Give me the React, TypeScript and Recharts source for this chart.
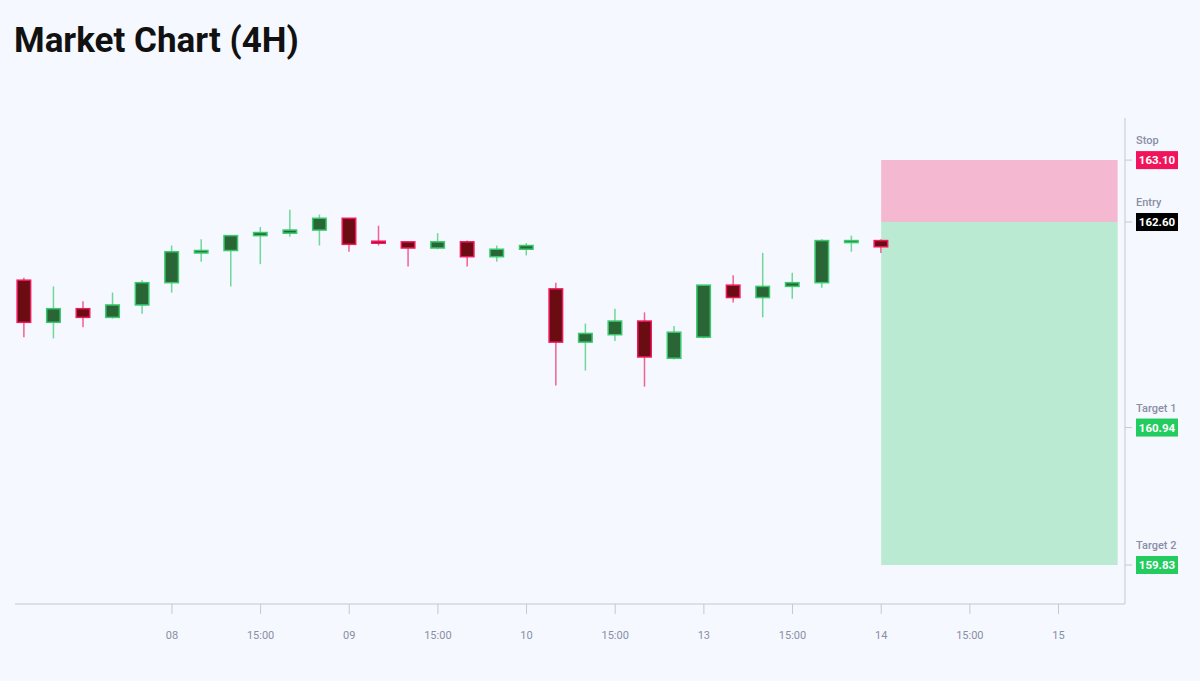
import { type ReactElement } from "react";
import { ComposedChart, Bar, XAxis, YAxis, ReferenceArea } from "recharts";

// 4H candles
const opens = [
  162.13, 161.79, 161.9, 161.83, 161.93, 162.11, 162.35, 162.37, 162.49, 162.51,
  162.535, 162.63, 162.445, 162.44, 162.39, 162.44, 162.32, 162.38, 162.06, 161.63,
  161.69, 161.8, 161.5, 161.67, 162.09, 161.99, 162.08, 162.11, 162.44, 162.45,
];
const highs = [
  162.15, 162.08, 161.96, 162.03, 162.13, 162.41, 162.46, 162.49, 162.56, 162.7,
  162.66, 162.63, 162.57, 162.44, 162.51, 162.45, 162.41, 162.43, 162.11, 161.78,
  161.9, 161.87, 161.76, 162.09, 162.17, 162.35, 162.19, 162.46, 162.49, 162.46,
];
const lows = [
  161.67, 161.66, 161.75, 161.82, 161.86, 162.03, 162.28, 162.08, 162.26, 162.48,
  162.41, 162.36, 162.41, 162.24, 162.38, 162.24, 162.28, 162.33, 161.28, 161.4,
  161.64, 161.27, 161.49, 161.66, 161.95, 161.83, 161.98, 162.07, 162.36, 162.35,
];
const closes = [
  161.79, 161.9, 161.83, 161.93, 162.11, 162.36, 162.37, 162.49, 162.515, 162.535,
  162.63, 162.42, 162.43, 162.39, 162.44, 162.32, 162.38, 162.41, 161.63, 161.7,
  161.8, 161.51, 161.71, 162.09, 161.99, 162.08, 162.11, 162.45, 162.45, 162.4,
];

const tickIndex = [5, 8, 11, 14, 17, 20, 23, 26, 29, 32, 35];
const tickLabels = ["08", "15:00", "09", "15:00", "10", "15:00", "13", "15:00", "14", "15:00", "15"];

const levelNames = ["Stop", "Entry", "Target 1", "Target 2"];
const levelValues = [163.1, 162.6, 160.94, 159.83];
const levelColors = ["#f2145b", "#000000", "#22cc5f", "#22cc5f"];

const zoneStart = 29;
const zoneEnd = 37;

const data = opens.map((o, i) => ({
  i,
  open: o,
  close: closes[i],
  range: [lows[i], highs[i]],
}));

const UP = { fill: "#2a6535", stroke: "#37c96c", wick: "#6fd898" };
const DOWN = { fill: "#6b0b12", stroke: "#f0185c", wick: "#f26191" };
const AXIS = "#c6c8d4";
const TEXT = "#8a8ea6";

function Candle(props: any): ReactElement | null {
  const { x, y, width, height, payload } = props;
  if (!payload) return null;
  const [low, high] = payload.range;
  const top = Math.min(y, y + height);
  const h = Math.abs(height);
  const px = (v: number) => (high === low ? top : top + ((high - v) / (high - low)) * h);
  const up = payload.close >= payload.open;
  const c = up ? UP : DOWN;
  const bTop = px(Math.max(payload.open, payload.close));
  const bBot = px(Math.min(payload.open, payload.close));
  const bh = Math.max(bBot - bTop, 2);
  const cx = x + width / 2;
  return (
    <g>
      <line x1={cx} x2={cx} y1={top} y2={top + h} stroke={c.wick} strokeWidth={1.5} />
      <rect
        x={x + 0.75}
        y={bTop}
        width={width - 1.5}
        height={bh}
        fill={c.fill}
        stroke={c.stroke}
        strokeWidth={1.5}
      />
    </g>
  );
}

function LevelTick(props: any): ReactElement {
  const { x, y, payload } = props;
  const k = levelValues.indexOf(payload.value);
  return (
    <g>
      <text x={x} y={y - 16} fill={TEXT} fontSize={11} fontWeight={500} fontFamily="Roboto">
        {levelNames[k]}
      </text>
      <rect x={x} y={y - 9} width={42} height={18} fill={levelColors[k]} />
      <text
        x={x + 21}
        y={y + 4}
        fill="#ffffff"
        fontSize={11.5}
        fontWeight={700}
        fontFamily="Roboto"
        textAnchor="middle"
      >
        {levelValues[k].toFixed(2)}
      </text>
    </g>
  );
}

export default function App(): ReactElement {
  return (
    <div
      style={{
        position: "fixed",
        left: 0,
        top: 0,
        width: 1200,
        height: 681,
        background: "#f5f8fe",
        fontFamily: "Roboto",
      }}
    >
      <div
        style={{
          position: "absolute",
          left: 14,
          top: 23,
          fontSize: 35,
          fontWeight: 700,
          lineHeight: 1,
          color: "#111111",
        }}
      >
        Market Chart (4H)
      </div>
      <div style={{ position: "absolute", left: 0, top: 0 }}>
        <ComposedChart
          width={1200}
          height={681}
          data={data}
          margin={{ top: 118, right: 0, bottom: 0, left: 15 }}
        >
          <XAxis
            dataKey="i"
            type="number"
            domain={[-0.31, 37.25]}
            allowDataOverflow
            ticks={tickIndex}
            interval={0}
            tickFormatter={(v: number) => tickLabels[tickIndex.indexOf(v)] ?? ""}
            height={77}
            stroke={AXIS}
            tickSize={10}
            tickMargin={17}
            tick={{ fill: TEXT, fontSize: 11, fontFamily: "Roboto" }}
          />
          <YAxis
            orientation="right"
            type="number"
            domain={[159.515, 163.44]}
            allowDataOverflow
            ticks={levelValues}
            interval={0}
            width={75}
            stroke={AXIS}
            tickSize={7}
            tickMargin={4}
            tick={<LevelTick />}
          />
          <Bar
            dataKey="range"
            barSize={15}
            isAnimationActive={false}
            shape={(p: any) => <Candle {...p} />}
          />
          <ReferenceArea
            x1={zoneStart}
            x2={zoneEnd}
            y1={levelValues[1]}
            y2={levelValues[0]}
            fill="#f0145a"
            fillOpacity={0.28}
            stroke="none"
            ifOverflow="visible"
          />
          <ReferenceArea
            x1={zoneStart}
            x2={zoneEnd}
            y1={levelValues[3]}
            y2={levelValues[1]}
            fill="#22c55e"
            fillOpacity={0.28}
            stroke="none"
            ifOverflow="visible"
          />
        </ComposedChart>
      </div>
    </div>
  );
}
